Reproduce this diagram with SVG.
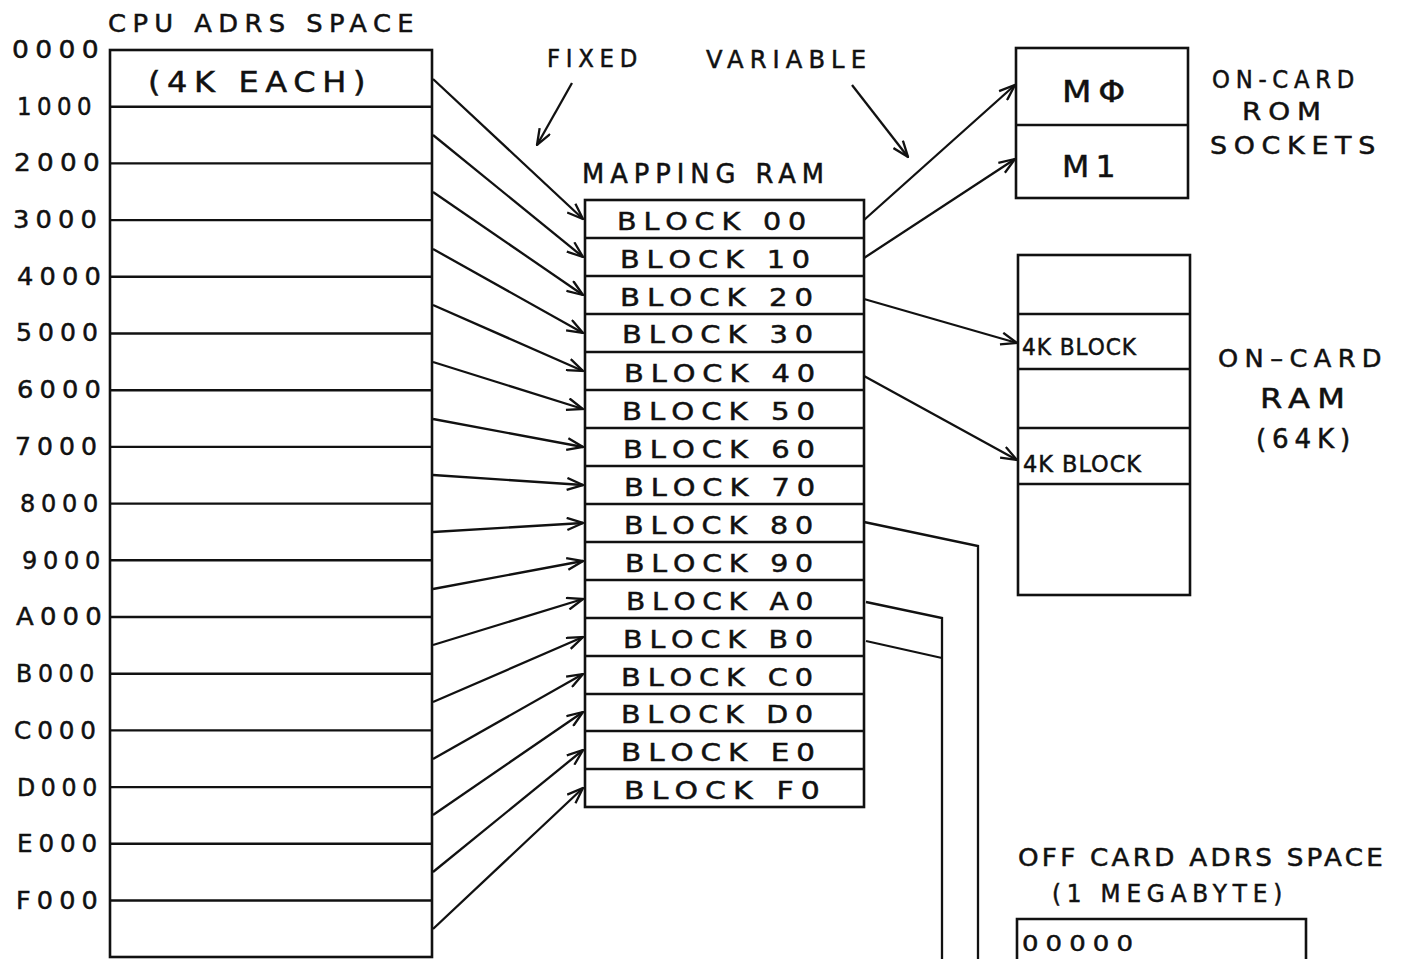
<svg xmlns="http://www.w3.org/2000/svg" width="1408" height="959" viewBox="0 0 1408 959">
<style>
text{font-family:"DejaVu Sans","Liberation Sans",sans-serif;fill:#111;stroke:#111;stroke-width:0.5;letter-spacing:6px;}
.box{fill:none;stroke:#111;stroke-width:2.6;}
.div{stroke:#111;stroke-width:2.4;}
.lbl{font-size:25px;letter-spacing:4px;}
.blk{font-size:25px;}
.hd{font-size:24px;}
.ln{fill:none;stroke:#111;stroke-width:2.3;}
.arr{fill:none;stroke:#111;stroke-width:2.3;marker-end:url(#ah);}
</style>
<defs>
<marker id="ah" viewBox="0 0 18 14" refX="17" refY="7" markerWidth="18" markerHeight="14" markerUnits="userSpaceOnUse" orient="auto">
<path d="M1,1 L17,7 L1,13" fill="none" stroke="#111" stroke-width="2.3"/>
</marker>
</defs>
<rect width="1408" height="959" fill="#fff"/>

<g id="cpu-space">
<text class="hd" x="108" y="32" textLength="312" lengthAdjust="spacingAndGlyphs">CPU ADRS SPACE</text>
<rect class="box" x="110" y="50" width="322" height="907"/>
<text x="148" y="92" font-size="29" textLength="224" lengthAdjust="spacingAndGlyphs">(4K EACH)</text>
<g class="div">
<line x1="110" y1="106.7" x2="432" y2="106.7"/>
<line x1="110" y1="163.4" x2="432" y2="163.4"/>
<line x1="110" y1="220.1" x2="432" y2="220.1"/>
<line x1="110" y1="276.8" x2="432" y2="276.8"/>
<line x1="110" y1="333.5" x2="432" y2="333.5"/>
<line x1="110" y1="390.2" x2="432" y2="390.2"/>
<line x1="110" y1="446.9" x2="432" y2="446.9"/>
<line x1="110" y1="503.6" x2="432" y2="503.6"/>
<line x1="110" y1="560.3" x2="432" y2="560.3"/>
<line x1="110" y1="617" x2="432" y2="617"/>
<line x1="110" y1="673.7" x2="432" y2="673.7"/>
<line x1="110" y1="730.4" x2="432" y2="730.4"/>
<line x1="110" y1="787.1" x2="432" y2="787.1"/>
<line x1="110" y1="843.8" x2="432" y2="843.8"/>
<line x1="110" y1="900.5" x2="432" y2="900.5"/>
</g>
<g class="lbl" text-anchor="end">
<text x="105" y="58" textLength="93" lengthAdjust="spacingAndGlyphs">0000</text>
<text x="97" y="115" textLength="80" lengthAdjust="spacingAndGlyphs">1000</text>
<text x="106" y="171" textLength="92" lengthAdjust="spacingAndGlyphs">2000</text>
<text x="103" y="228" textLength="90" lengthAdjust="spacingAndGlyphs">3000</text>
<text x="107" y="285" textLength="90" lengthAdjust="spacingAndGlyphs">4000</text>
<text x="104" y="341" textLength="88" lengthAdjust="spacingAndGlyphs">5000</text>
<text x="107" y="398" textLength="90" lengthAdjust="spacingAndGlyphs">6000</text>
<text x="103" y="455" textLength="88" lengthAdjust="spacingAndGlyphs">7000</text>
<text x="104" y="512" textLength="84" lengthAdjust="spacingAndGlyphs">8000</text>
<text x="106" y="569" textLength="84" lengthAdjust="spacingAndGlyphs">9000</text>
<text x="108" y="625" textLength="92" lengthAdjust="spacingAndGlyphs">A000</text>
<text x="100" y="682" textLength="84" lengthAdjust="spacingAndGlyphs">B000</text>
<text x="102" y="739" textLength="88" lengthAdjust="spacingAndGlyphs">C000</text>
<text x="103" y="796" textLength="86" lengthAdjust="spacingAndGlyphs">D000</text>
<text x="103" y="852" textLength="86" lengthAdjust="spacingAndGlyphs">E000</text>
<text x="104" y="909" textLength="88" lengthAdjust="spacingAndGlyphs">F000</text>
</g>
</g>

<g id="annotations">
<text class="hd" x="547" y="67" textLength="96" lengthAdjust="spacingAndGlyphs">FIXED</text>
<text class="hd" x="706" y="68" textLength="166" lengthAdjust="spacingAndGlyphs">VARIABLE</text>
</g>

<g id="mapping-ram">
<text x="582" y="183" font-size="26" textLength="248" lengthAdjust="spacingAndGlyphs">MAPPING  RAM</text>
<rect class="box" x="585" y="200" width="279" height="607"/>
<g class="div">
<line x1="585" y1="238" x2="864" y2="238"/>
<line x1="585" y1="276" x2="864" y2="276"/>
<line x1="585" y1="314" x2="864" y2="314"/>
<line x1="585" y1="352" x2="864" y2="352"/>
<line x1="585" y1="390" x2="864" y2="390"/>
<line x1="585" y1="428" x2="864" y2="428"/>
<line x1="585" y1="466" x2="864" y2="466"/>
<line x1="585" y1="504" x2="864" y2="504"/>
<line x1="585" y1="542" x2="864" y2="542"/>
<line x1="585" y1="580" x2="864" y2="580"/>
<line x1="585" y1="618" x2="864" y2="618"/>
<line x1="585" y1="656" x2="864" y2="656"/>
<line x1="585" y1="694" x2="864" y2="694"/>
<line x1="585" y1="731" x2="864" y2="731"/>
<line x1="585" y1="769" x2="864" y2="769"/>
</g>
<g class="blk">
<text x="617" y="230" textLength="196" lengthAdjust="spacingAndGlyphs">BLOCK 00</text>
<text x="620" y="268" textLength="197" lengthAdjust="spacingAndGlyphs">BLOCK 10</text>
<text x="620" y="306" textLength="200" lengthAdjust="spacingAndGlyphs">BLOCK 20</text>
<text x="622" y="343" textLength="198" lengthAdjust="spacingAndGlyphs">BLOCK 30</text>
<text x="624" y="382" textLength="198" lengthAdjust="spacingAndGlyphs">BLOCK 40</text>
<text x="622" y="420" textLength="200" lengthAdjust="spacingAndGlyphs">BLOCK 50</text>
<text x="623" y="458" textLength="199" lengthAdjust="spacingAndGlyphs">BLOCK 60</text>
<text x="624" y="496" textLength="198" lengthAdjust="spacingAndGlyphs">BLOCK 70</text>
<text x="624" y="534" textLength="196" lengthAdjust="spacingAndGlyphs">BLOCK 80</text>
<text x="625" y="572" textLength="195" lengthAdjust="spacingAndGlyphs">BLOCK 90</text>
<text x="626" y="610" textLength="194" lengthAdjust="spacingAndGlyphs">BLOCK A0</text>
<text x="623" y="648" textLength="197" lengthAdjust="spacingAndGlyphs">BLOCK B0</text>
<text x="621" y="686" textLength="199" lengthAdjust="spacingAndGlyphs">BLOCK C0</text>
<text x="621" y="723" textLength="199" lengthAdjust="spacingAndGlyphs">BLOCK D0</text>
<text x="621" y="761" textLength="201" lengthAdjust="spacingAndGlyphs">BLOCK E0</text>
<text x="624" y="799" textLength="203" lengthAdjust="spacingAndGlyphs">BLOCK F0</text>
</g>
</g>

<g id="rom-sockets">
<rect class="box" x="1016" y="48" width="172" height="150"/>
<line class="div" x1="1016" y1="125" x2="1188" y2="125"/>
<text x="1062" y="102" font-size="30" textLength="70" lengthAdjust="spacingAndGlyphs">MΦ</text>
<text x="1062" y="177" font-size="30" textLength="60" lengthAdjust="spacingAndGlyphs">M1</text>
<text class="hd" x="1212" y="88" textLength="148" lengthAdjust="spacingAndGlyphs">ON-CARD</text>
<text class="hd" x="1242" y="120" textLength="86" lengthAdjust="spacingAndGlyphs">ROM</text>
<text class="hd" x="1210" y="154" textLength="172" lengthAdjust="spacingAndGlyphs">SOCKETS</text>
</g>

<g id="on-card-ram">
<rect class="box" x="1018" y="255" width="172" height="340"/>
<g class="div">
<line x1="1018" y1="314" x2="1190" y2="314"/>
<line x1="1018" y1="369" x2="1190" y2="369"/>
<line x1="1018" y1="428" x2="1190" y2="428"/>
<line x1="1018" y1="484" x2="1190" y2="484"/>
</g>
<text x="1022" y="355" font-size="23" style="letter-spacing:1px" textLength="115" lengthAdjust="spacingAndGlyphs">4K BLOCK</text>
<text x="1023" y="472" font-size="23" style="letter-spacing:1px" textLength="119" lengthAdjust="spacingAndGlyphs">4K BLOCK</text>
<text class="hd" x="1218" y="367" textLength="170" lengthAdjust="spacingAndGlyphs">ON–CARD</text>
<text x="1260" y="408" font-size="27" textLength="92" lengthAdjust="spacingAndGlyphs">RAM</text>
<text x="1256" y="448" font-size="27" textLength="100" lengthAdjust="spacingAndGlyphs">(64K)</text>
</g>

<g id="off-card-space">
<text class="hd" x="1018" y="866" style="letter-spacing:3px" textLength="368" lengthAdjust="spacingAndGlyphs">OFF CARD ADRS SPACE</text>
<text class="hd" x="1052" y="902" textLength="236" lengthAdjust="spacingAndGlyphs">(1 MEGABYTE)</text>
<path class="box" d="M1017,962 V919 H1306 V962"/>
<text x="1022" y="951" font-size="22" textLength="118" lengthAdjust="spacingAndGlyphs">00000</text>
</g>

<g id="connectors">
<line class="arr" x1="572" y1="83" x2="537" y2="145"/>
<line class="arr" x1="852" y1="85" x2="908" y2="157"/>
<line class="arr" x1="433" y1="79" x2="583" y2="219"/>
<line class="arr" x1="433" y1="135" x2="583" y2="257"/>
<line class="arr" x1="433" y1="192" x2="583" y2="295"/>
<line class="arr" x1="433" y1="249" x2="583" y2="333"/>
<line class="arr" x1="433" y1="305" x2="583" y2="371"/>
<line class="arr" x1="433" y1="362" x2="583" y2="409"/>
<line class="arr" x1="433" y1="419" x2="583" y2="447"/>
<line class="arr" x1="433" y1="475" x2="583" y2="485"/>
<line class="arr" x1="433" y1="532" x2="583" y2="523"/>
<line class="arr" x1="433" y1="589" x2="583" y2="561"/>
<line class="arr" x1="433" y1="645" x2="583" y2="599"/>
<line class="arr" x1="433" y1="702" x2="583" y2="637"/>
<line class="arr" x1="433" y1="759" x2="583" y2="674"/>
<line class="arr" x1="433" y1="815" x2="583" y2="712"/>
<line class="arr" x1="433" y1="872" x2="583" y2="750"/>
<line class="arr" x1="433" y1="929" x2="583" y2="788"/>
<line class="arr" x1="864" y1="220" x2="1015" y2="85"/>
<line class="arr" x1="864" y1="258" x2="1015" y2="159"/>
<line class="arr" x1="864" y1="299" x2="1017" y2="343"/>
<line class="arr" x1="864" y1="376" x2="1017" y2="460"/>
<polyline class="ln" points="864,522 978,546 978,962"/>
<polyline class="ln" points="866,602 942,618 942,962"/>
<polyline class="ln" points="866,641 942,658"/>
</g>
</svg>
